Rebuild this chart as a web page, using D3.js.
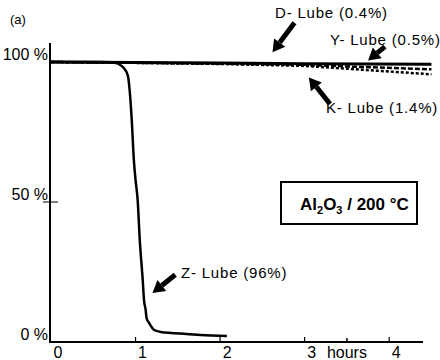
<!DOCTYPE html>
<html><head><meta charset="utf-8">
<script src="https://cdn.jsdelivr.net/npm/d3@7"></script>
<style>html,body{margin:0;padding:0;background:#fff;}text{font-family:"Liberation Sans",Arial,sans-serif;}</style>
</head><body><svg id="c" width="440" height="360"></svg>
<script>
// ---- data ----
const xTicks = [0, 1, 2, 3, 4];
const yTicks = [0, 50, 100];
const yTickLabels = ["0 %", "50 %", "100 %"];
const zHours = [0, 0.6, 0.77, 0.82, 0.87, 0.91, 0.93, 0.955, 0.98, 1.0, 1.025, 1.05, 1.085, 1.1, 1.12, 1.13, 1.16, 1.22, 1.3, 1.42, 1.6, 1.77, 2.08];
const zValues = [100, 100, 99.6, 98.9, 97.5, 95, 90, 79.3, 65, 57.9, 50.7, 36.4, 22.1, 15, 11.4, 8.6, 6.8, 4.3, 3.6, 3.2, 2.9, 2.5, 2.1];
const dHours = [0, 1, 2, 3, 4.5];
const dValues = [100, 99.8, 99.6, 99.4, 99.2];
const yHours = [0, 1, 2, 3, 3.5, 4.5];
const yValues = [100, 99.7, 99.4, 99.0, 98.4, 97.4];
const kHours = [0, 1, 2, 3, 3.5, 4.5];
const kValues = [100, 99.7, 99.3, 98.6, 97.6, 95.6];
const labels = ["D- Lube (0.4%)", "Y- Lube (0.5%)", "K- Lube (1.4%)", "Z- Lube (96%)"];

const svg = d3.select("#c");
const x = d3.scaleLinear().domain([0, 4.4]).range([51, 423]);
const y = d3.scaleLinear().domain([0, 100]).range([342, 62]);

// axes
svg.append("line").attr("x1", x(0)-1).attr("x2", x(4.4)).attr("y1", y(0)).attr("y2", y(0)).attr("stroke", "#000").attr("stroke-width", 2);
svg.append("line").attr("x1", x(0)-1).attr("x2", x(0)-1).attr("y1", 43).attr("y2", y(0)+1).attr("stroke", "#000").attr("stroke-width", 2);

// x ticks
xTicks.filter(d => d > 0).forEach(d => {
  svg.append("line").attr("x1", x(d)).attr("x2", x(d)).attr("y1", y(0)-5).attr("y2", y(0)).attr("stroke", "#000").attr("stroke-width", 1.2);
});
svg.append("line").attr("x1", x(3.5)).attr("x2", x(3.5)).attr("y1", y(0)-4).attr("y2", y(0)).attr("stroke", "#000").attr("stroke-width", 1.5);
xTicks.forEach(d => {
  svg.append("text").attr("x", x(d)+7).attr("y", 358).attr("text-anchor", "middle").attr("font-size", 16).text(d);
});
svg.append("text").attr("x", x(3.5)).attr("y", 358).attr("text-anchor", "middle").attr("font-size", 16).text("hours");

// y ticks
yTicks.forEach((d, i) => {
  if (d === 50) svg.append("line").attr("x1", x(0)-8).attr("x2", x(0)+7).attr("y1", y(d)).attr("y2", y(d)).attr("stroke", "#000").attr("stroke-width", 1);
  svg.append("text").attr("x", x(0)-3).attr("y", y(d)-2).attr("text-anchor", "end").attr("font-size", 16).text(yTickLabels[i]);
});

// lines
const line = d3.line().x(d => x(d[0])).y(d => y(d[1]));
const zip = (a, b) => a.map((v, i) => [v, b[i]]);
svg.append("path").datum(zip(dHours, dValues)).attr("d", line).attr("fill", "none").attr("stroke", "#000").attr("stroke-width", 3);
svg.append("path").datum(zip(yHours, yValues)).attr("d", line).attr("fill", "none").attr("stroke", "#000").attr("stroke-width", 2.5).attr("stroke-dasharray", "5,2");
svg.append("path").datum(zip(kHours, kValues)).attr("d", line).attr("fill", "none").attr("stroke", "#000").attr("stroke-width", 2.5).attr("stroke-dasharray", "3,2");
svg.append("path").datum(zip(zHours, zValues)).attr("d", d3.line().curve(d3.curveMonotoneX).x(d => x(d[0])).y(d => y(d[1]))).attr("fill", "none").attr("stroke", "#000").attr("stroke-width", 2.5);

// arrows (in data units: tail -> tip)
const arrows = [
  [[2.88, 114], [2.62, 103.5]],
  [[3.95, 105.5], [3.75, 100.5]],
  [[3.3, 85], [3.05, 94.5]],
  [[1.47, 24], [1.2, 17.5]]
];
arrows.forEach(([t, h]) => {
  const x1 = x(t[0]), y1 = y(t[1]), x2 = x(h[0]), y2 = y(h[1]);
  const dx = x2 - x1, dy = y2 - y1, L = Math.hypot(dx, dy), ux = dx / L, uy = dy / L;
  const hl = 12, hw = 7;
  const bx = x2 - ux * hl, by = y2 - uy * hl;
  svg.append("line").attr("x1", x1).attr("y1", y1).attr("x2", bx).attr("y2", by).attr("stroke", "#000").attr("stroke-width", 5);
  svg.append("path").attr("d", `M${x2},${y2}L${bx - uy * hw},${by + ux * hw}L${bx + uy * hw},${by - ux * hw}Z`).attr("fill", "#000");
});

// labels
const labelPos = [[275, 18], [330, 45], [326, 113], [181, 278]];
labels.forEach((t, i) => {
  svg.append("text").attr("x", labelPos[i][0]).attr("y", labelPos[i][1]).attr("font-size", 15).attr("letter-spacing", 0.8).text(t);
});

svg.append("text").attr("x", 10).attr("y", 24).attr("font-size", 13).text("(a)");

// box
svg.append("rect").attr("x", 281).attr("y", 182).attr("width", 136).attr("height", 42).attr("fill", "none").attr("stroke", "#000").attr("stroke-width", 2);
const bt = svg.append("text").attr("x", 300).attr("y", 210).attr("font-size", 17).attr("font-weight", "bold");
bt.append("tspan").text("Al");
bt.append("tspan").attr("font-size", 11).attr("dy", 4).text("2");
bt.append("tspan").attr("dy", -4).text("O");
bt.append("tspan").attr("font-size", 11).attr("dy", 4).text("3");
bt.append("tspan").attr("dy", -4).text(" / 200 °C");
</script></body></html>
